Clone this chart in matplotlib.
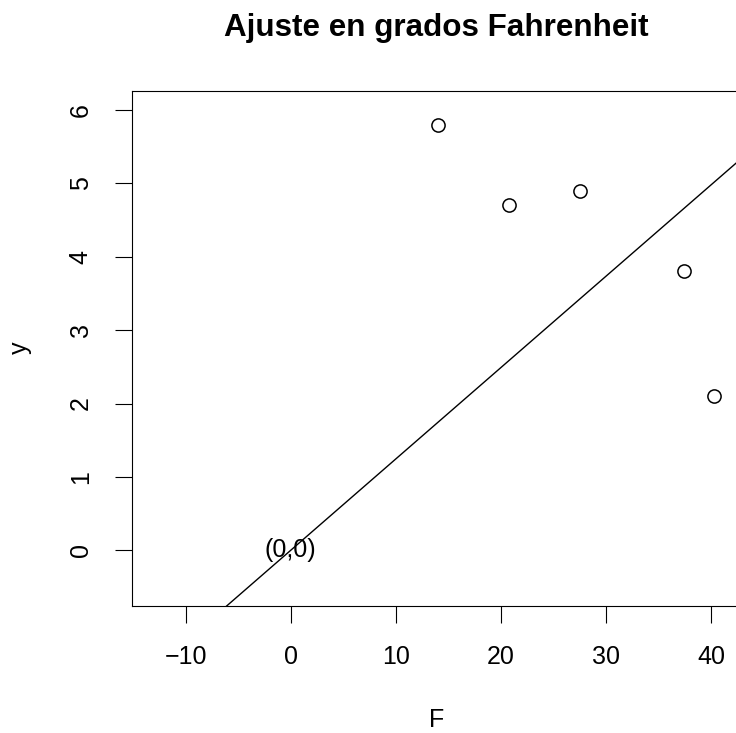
import numpy as np
import matplotlib
matplotlib.use("Agg")
from matplotlib import pyplot as plt

# temperaturas en grados Fahrenheit y respuesta
F = [14.0, 20.8, 27.5, 37.4, 40.3]
y = [5.8, 4.7, 4.9, 3.8, 2.1]
pendiente = 0.1245  # recta ajustada por el origen
x_ticks = [-10, 0, 10, 20, 30, 40]
y_ticks = [0, 1, 2, 3, 4, 5, 6]

plt.rcParams['font.family'] = ['Liberation Sans', 'DejaVu Sans']

W, H = 736, 733
fig = plt.figure(figsize=(W / 100, H / 100), dpi=100)
left, right, top, bottom = 131.7, 737.5, 91, 606
ax = fig.add_axes([left / W, 1 - bottom / H, (right - left) / W, (bottom - top) / H])

ax.plot(F, y, linestyle="none", marker="o", markersize=9.5, markerfacecolor="none",
        markeredgecolor="black", markeredgewidth=1.1)

xlim = (-15.14, 42.52)
ylim = (-0.76, 6.26)
xs = np.array(xlim)
ax.plot(xs, pendiente * xs, color="black", linewidth=1.0)
ax.text(0, 0, "(0,0)", ha="center", va="center", fontsize=18)

ax.set_xlim(*xlim)
ax.set_ylim(*ylim)
ax.set_xticks(x_ticks)
ax.set_yticks(y_ticks)
ax.set_xticklabels(["\u221210" if v == -10 else str(v) for v in x_ticks])
ax.tick_params(axis="both", length=12, width=0.8, labelsize=18, pad=16, direction="out")
for lab in ax.get_yticklabels():
    lab.set_rotation(90)
    lab.set_va("center")
for s in ax.spines.values():
    s.set_linewidth(0.8)

fig.text(437 / W, 1 - 720 / H, "F", ha="center", va="center", fontsize=18)
fig.text(20 / W, 1 - 348 / H, "y", ha="center", va="center", fontsize=18, rotation=90)
fig.text(436 / W, 1 - 28 / H, "Ajuste en grados Fahrenheit", ha="center", va="center",
         fontsize=22.6, fontweight="bold")

fig.savefig("out.png", dpi=100)
